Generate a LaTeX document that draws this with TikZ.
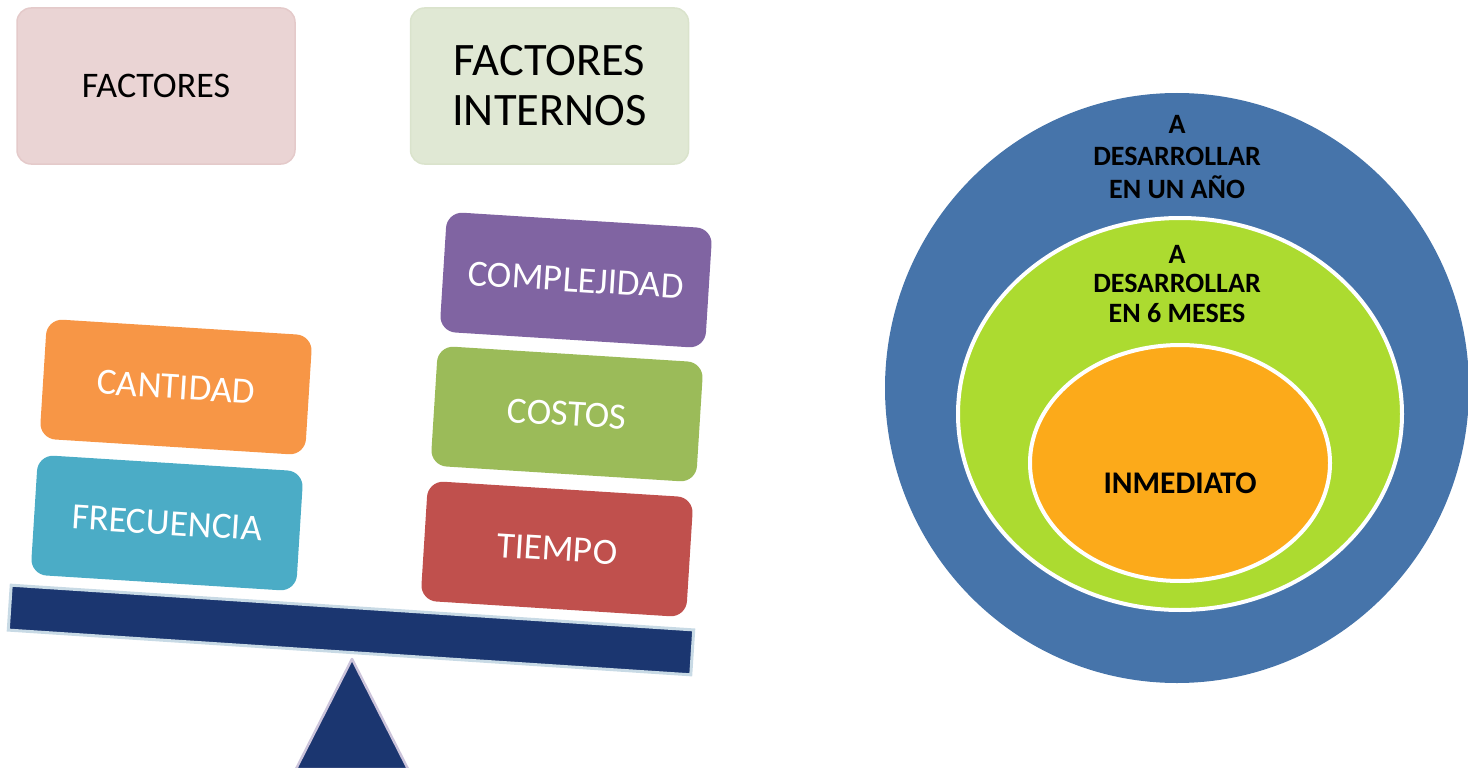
\documentclass[tikz,border=0pt]{standalone}
\usepackage{fontspec}
\setmainfont{Carlito}
\usetikzlibrary{shapes.geometric}

\definecolor{factorpink}{HTML}{EAD4D4}
\definecolor{factorpinkline}{HTML}{E4CACA}
\definecolor{internalgreen}{HTML}{E0E8D4}
\definecolor{internalgreenline}{HTML}{DAE3CC}
\definecolor{weightorange}{HTML}{F79646}
\definecolor{weightcyan}{HTML}{4BACC6}
\definecolor{weightpurple}{HTML}{8064A2}
\definecolor{weightgreen}{HTML}{9BBB59}
\definecolor{weightred}{HTML}{C0504D}
\definecolor{beamnavy}{HTML}{1B3670}
\definecolor{beamedge}{HTML}{C8DAE5}
\definecolor{pivotedge}{HTML}{CCC4DB}
\definecolor{yearblue}{HTML}{4674AA}
\definecolor{monthgreen}{HTML}{ACDB30}
\definecolor{nowyellow}{HTML}{FCAA1A}

\begin{document}
\begin{tikzpicture}[x=1pt, y=-1pt]

\useasboundingbox (0, 0) rectangle (1468, 768) ;

% title boxes

\tikzstyle{title box} = [rectangle, rounded corners=14pt, line width=1.5pt,
	minimum width=278, minimum height=156, align=center, text=black]

\node [title box, fill=factorpink, draw=factorpinkline, font=\fontsize{36}{43}\selectfont]
	(factores) at (156, 86) {FACTORES} ;

\node [title box, fill=internalgreen, draw=internalgreenline, font=\fontsize{46.5}{50}\selectfont]
	(internos) at (549.5, 86) {FACTORES\\INTERNOS} ;

% weights on the scale

\def\boxtilt{-3.6}

\tikzstyle{weight box} = [rectangle, rounded corners=16pt, rotate=\boxtilt,
	minimum width=266, minimum height=120, text=white, font=\fontsize{37}{43}\selectfont]

\node [weight box, fill=weightorange] (cantidad) at (176, 387) {CANTIDAD} ;
\node [weight box, fill=weightcyan] (frecuencia) at (167, 523) {FRECUENCIA} ;

\node [weight box, fill=weightpurple] (complejidad) at (576, 280) {COMPLEJIDAD} ;
\node [weight box, fill=weightgreen] (costos) at (567, 414) {COSTOS} ;
\node [weight box, fill=weightred] (tiempo) at (557, 549) {TIEMPO} ;

% beam and pivot

\tikzstyle{beam bar} = [rectangle, fill=beamnavy, draw=beamedge, line width=3pt,
	rotate=-3.75, minimum width=684, minimum height=45]

\node [beam bar] (beam) at (351, 630) {} ;

\coordinate (pivot top) at (352, 659) ;
\draw [fill=beamnavy, draw=pivotedge, line width=2.5pt, line join=round]
	(pivot top) -- (408, 769) -- (296, 769) -- cycle ;

% rings of time

\tikzstyle{ring} = [ellipse, inner sep=0pt]
\tikzstyle{ring text} = [align=center, text=black, font=\bfseries\fontsize{28}{32.5}\selectfont]

\node [ring, fill=yearblue, minimum width=584, minimum height=590] (year) at (1177, 388) {} ;
\node [ring, fill=monthgreen, draw=white, line width=4pt, minimum width=444, minimum height=392]
	(months) at (1180, 414) {} ;
\node [ring, fill=nowyellow, draw=white, line width=4pt, minimum width=300, minimum height=236]
	(now) at (1180, 463) {} ;

\node [ring text] (year label) at (1177, 157) {A\\DESARROLLAR\\EN UN AÑO} ;
\node [ring text, font=\bfseries\fontsize{28}{29.5}\selectfont] (months label) at (1177, 284)
	{A\\DESARROLLAR\\EN 6 MESES} ;
\node [ring text, font=\bfseries\fontsize{31.5}{36}\selectfont] (now label) at (1180, 483) {INMEDIATO} ;

\end{tikzpicture}
\end{document}
